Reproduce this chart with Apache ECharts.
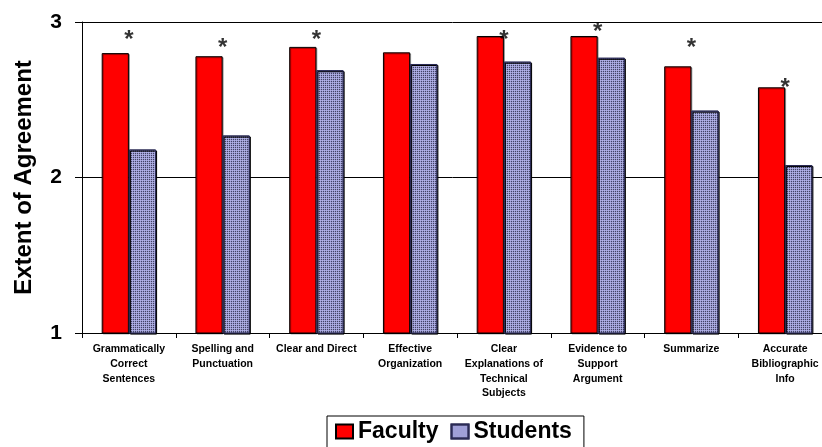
<!DOCTYPE html>
<html>
<head>
<meta charset="utf-8">
<script src="https://cdn.jsdelivr.net/npm/echarts@6/dist/echarts.min.js"></script>
<style>
html,body{margin:0;padding:0;background:#fff;}
#chart{width:822px;height:447px;}
</style>
</head>
<body>
<div id="chart"></div>
<script>
var categories = [
  'Grammatically\nCorrect\nSentences',
  'Spelling and\nPunctuation',
  'Clear and Direct',
  'Effective\nOrganization',
  'Clear\nExplanations of\nTechnical\nSubjects',
  'Evidence to\nSupport\nArgument',
  'Summarize',
  'Accurate\nBibliographic\nInfo'
];
var faculty = [2.80, 2.78, 2.84, 2.805, 2.91, 2.91, 2.715, 2.58];
var students = [2.18, 2.27, 2.69, 2.73, 2.745, 2.77, 2.43, 2.08];
// significance markers (*) heights
var significance = [2.92, 2.87, 2.92, null, 2.92, 2.97, 2.87, 2.61];
var yTicks = [1, 2, 3];

var font = '"Liberation Sans", Arial, sans-serif';
var chart = echarts.init(document.getElementById('chart'), null, {renderer: 'canvas'});
chart.setOption({
  animation: false,
  backgroundColor: '#ffffff',
  grid: {left: 82, top: 22, width: 750, height: 311, containLabel: false, outerBoundsMode: 'none'},
  legend: {
    data: ['Faculty', 'Students'],
    left: 327, top: 416,
    borderColor: '#000', borderWidth: 1,
    padding: [4, 12, 6, 8],
    icon: 'rect',
    itemWidth: 17, itemHeight: 14, itemGap: 12,
    textStyle: {fontFamily: font, fontWeight: 'bold', fontSize: 23, color: '#000'}
  },
  xAxis: {
    type: 'category',
    data: categories,
    axisLine: {lineStyle: {color: '#000', width: 1}},
    axisTick: {show: true, length: 5, lineStyle: {color: '#000'}},
    axisLabel: {
      interval: 0, margin: 9,
      fontFamily: font, fontWeight: 'bold', fontSize: 10.5, lineHeight: 14.7, color: '#000'
    }
  },
  yAxis: {
    type: 'value',
    min: yTicks[0], max: yTicks[yTicks.length - 1], interval: 1,
    name: 'Extent of Agreement',
    nameLocation: 'middle',
    nameGap: 46,
    nameTextStyle: {fontFamily: font, fontWeight: 'bold', fontSize: 24, color: '#000'},
    axisLine: {show: true, lineStyle: {color: '#000', width: 1}},
    axisTick: {show: true, length: 7, lineStyle: {color: '#000'}},
    axisLabel: {margin: 20, fontFamily: font, fontWeight: 'bold', fontSize: 21, color: '#000'},
    splitLine: {show: true, lineStyle: {color: '#000', width: 1}}
  },
  series: [
    {
      name: 'Faculty', type: 'bar', data: faculty,
      barGap: '0%', barCategoryGap: '42%',
      itemStyle: {color: '#ff0000', borderColor: '#000', borderWidth: 1,
        shadowColor: 'rgba(0,0,0,0.35)', shadowOffsetX: 1, shadowOffsetY: 1}
    },
    {
      name: 'Students', type: 'bar', data: students,
      barGap: '0%', barCategoryGap: '42%',
      itemStyle: {color: '#9a9ad4', borderColor: '#2a2a55', borderWidth: 1,
        shadowColor: 'rgba(0,0,0,0.35)', shadowOffsetX: 1, shadowOffsetY: 1,
        decal: {symbol: 'rect', symbolSize: 1, dashArrayX: [1, 1], dashArrayY: [1, 1],
          color: 'rgba(200,200,240,0.55)'}}
    },
    {
      name: 'sig', type: 'scatter', data: significance,
      symbolSize: 0, silent: true,
      label: {show: true, position: 'inside', formatter: '*',
        fontFamily: font, fontWeight: 'bold', fontSize: 24, color: '#000', offset: [0, 6]}
    }
  ]
});
</script>
</body>
</html>
